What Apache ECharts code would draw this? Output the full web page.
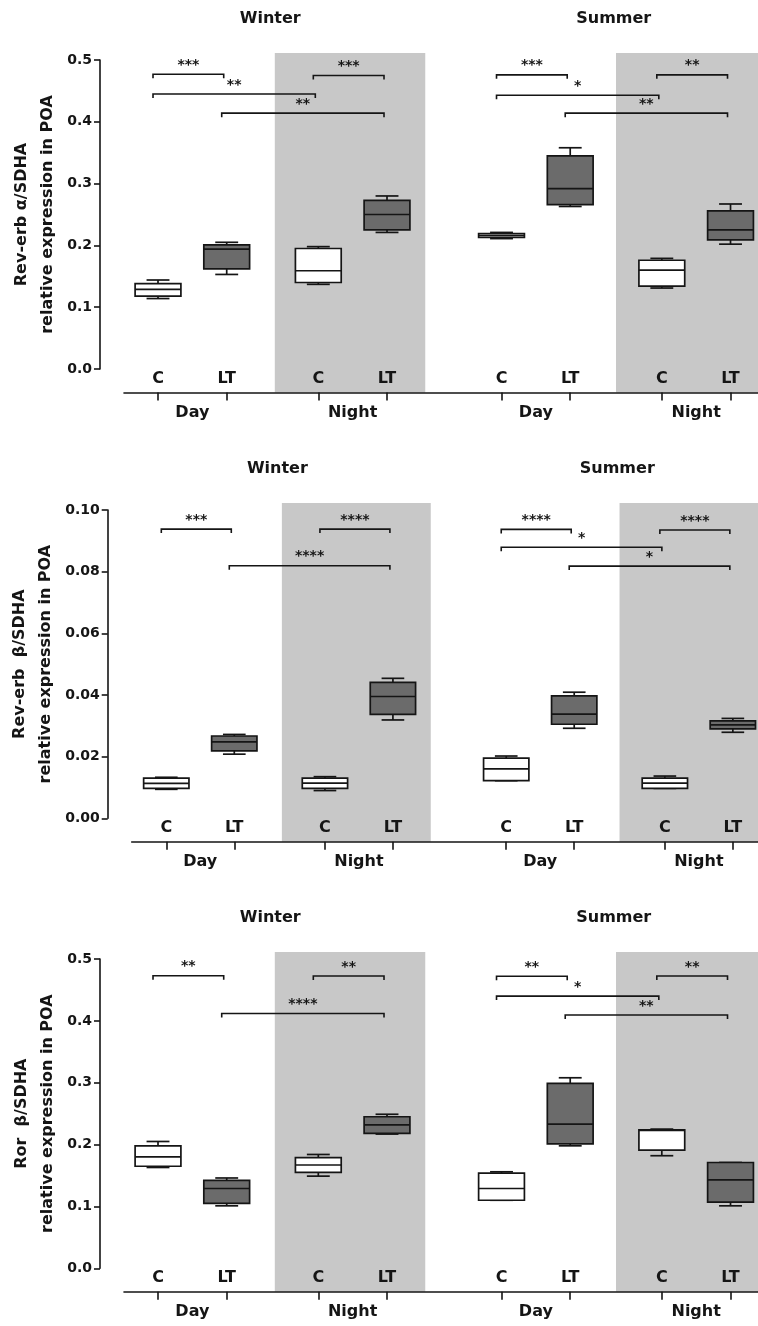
<!DOCTYPE html>
<html>
<head>
<meta charset="utf-8">
<script src="https://cdn.jsdelivr.net/npm/echarts@6/dist/echarts.min.js"></script>
<style>
  html, body { margin: 0; padding: 0; background: #fff; }
  #chart { width: 758px; height: 1326px; }
</style>
</head>
<body>
<div id="chart"></div>
<script>
// ---- data ----------------------------------------------------------------
const seasons = ['Winter', 'Summer'];
const phases = ['Day', 'Night'];
const treatments = ['C', 'LT'];

// five-number summaries [min, Q1, median, Q3, max]
// order: Winter C Day, Winter LT Day, Winter C Night, Winter LT Night,
//        Summer C Day, Summer LT Day, Summer C Night, Summer LT Night
const revErbAlphaBoxes = [
  [0.114, 0.118, 0.129, 0.138, 0.144],
  [0.153, 0.162, 0.194, 0.201, 0.205],
  [0.137, 0.140, 0.159, 0.195, 0.198],
  [0.221, 0.225, 0.250, 0.273, 0.280],
  [0.211, 0.213, 0.216, 0.219, 0.221],
  [0.263, 0.266, 0.292, 0.345, 0.358],
  [0.131, 0.134, 0.160, 0.176, 0.179],
  [0.202, 0.209, 0.225, 0.256, 0.267]
];
const revErbBetaBoxes = [
  [0.0094, 0.0097, 0.0113, 0.0130, 0.0133],
  [0.0208, 0.0219, 0.0248, 0.0267, 0.0272],
  [0.0090, 0.0097, 0.0114, 0.0130, 0.0135],
  [0.0319, 0.0337, 0.0395, 0.0441, 0.0454],
  [0.0122, 0.0122, 0.0160, 0.0195, 0.0202],
  [0.0292, 0.0305, 0.0338, 0.0397, 0.0409],
  [0.0097, 0.0097, 0.0114, 0.0130, 0.0137],
  [0.0279, 0.0290, 0.0303, 0.0316, 0.0324]
];
const rorBetaBoxes = [
  [0.163, 0.165, 0.180, 0.198, 0.205],
  [0.101, 0.105, 0.129, 0.142, 0.146],
  [0.149, 0.155, 0.167, 0.179, 0.184],
  [0.217, 0.218, 0.232, 0.245, 0.249],
  [0.110, 0.110, 0.129, 0.154, 0.156],
  [0.198, 0.201, 0.233, 0.299, 0.308],
  [0.182, 0.191, 0.223, 0.224, 0.225],
  [0.101, 0.107, 0.143, 0.171, 0.171]
];

// significance brackets: [from group, to group, bracket height, stars]
const revErbAlphaSig = [
  [0, 1, 0.477, '***'], [0, 2, 0.445, '**'], [1, 3, 0.414, '**'], [2, 3, 0.475, '***'],
  [4, 5, 0.476, '***'], [4, 6, 0.443, '*'], [5, 7, 0.414, '**'], [6, 7, 0.476, '**']
];
const revErbBetaSig = [
  [0, 1, 0.0938, '***'], [1, 3, 0.0819, '****'], [2, 3, 0.0938, '****'],
  [4, 5, 0.0937, '****'], [4, 6, 0.0879, '*'], [5, 7, 0.0818, '*'], [6, 7, 0.0935, '****']
];
const rorBetaSig = [
  [0, 1, 0.473, '**'], [1, 3, 0.412, '****'], [2, 3, 0.4725, '**'],
  [4, 5, 0.472, '**'], [4, 6, 0.440, '*'], [5, 7, 0.4095, '**'], [6, 7, 0.4725, '**']
];

// y-axis tick settings per panel
const revErbAlphaTicks = { max: 0.5, interval: 0.1, decimals: 1 };
const revErbBetaTicks = { max: 0.10, interval: 0.02, decimals: 2 };
const rorBetaTicks = { max: 0.5, interval: 0.1, decimals: 1 };

// ---- layout ----------------------------------------------------------------
const FONT = 'DejaVu Sans';
const INK = '#151515';
const LT_FILL = '#6b6b6b';
const NIGHT_FILL = '#c8c8c8';
const slotX = [0, 3, 7, 10, 15, 18, 22, 25];   // x position of each group
const phaseX = [1.5, 8.5, 16.5, 23.5];         // Day / Night captions
const seasonX = [4.9, 19.9];                   // season titles
const nightBands = [[5.1, 11.67], [20, 99]];   // shaded night columns
const BOX_UNITS = 2;                            // box width in x units
const X_OFFSET = 23.5;                          // gap between y=0 and the x axis line

const panels = [
  { top: 60,  height: 309,   left: 124,   min: -1.485, max: 26.2,
    name: ['Rev-erb α/SDHA', 'relative expression in POA'],
    boxes: revErbAlphaBoxes, sig: revErbAlphaSig, ticks: revErbAlphaTicks },
  { top: 510, height: 308.3, left: 131.7, min: -1.527, max: 26.11,
    name: ['Rev-erb  β/SDHA', 'relative expression in POA'],
    boxes: revErbBetaBoxes, sig: revErbBetaSig, ticks: revErbBetaTicks },
  { top: 959, height: 309.3, left: 124,   min: -1.485, max: 26.2,
    name: ['Ror  β/SDHA', 'relative expression in POA'],
    boxes: rorBetaBoxes, sig: rorBetaSig, ticks: rorBetaTicks }
];

const boldText = (size) => ({ fontFamily: FONT, fontWeight: 'bold', fontSize: size, color: INK });
const inkLine = { color: INK, width: 1.6 };

// ---- render helpers ----------------------------------------------------------
function renderBand(params, api) {
  const cs = params.coordSys;
  const x1 = api.coord([api.value(0), 0])[0];
  const x2 = Math.min(api.coord([api.value(1), 0])[0], cs.x + cs.width);
  return {
    type: 'rect',
    shape: { x: x1, y: cs.y - 7, width: x2 - x1, height: cs.height + 7 + X_OFFSET },
    style: { fill: NIGHT_FILL }
  };
}

function renderBox(params, api) {
  const x = api.value(0);
  const pLo = api.coord([x, api.value(1)]);
  const pQ1 = api.coord([x, api.value(2)]);
  const pMd = api.coord([x, api.value(3)]);
  const pQ3 = api.coord([x, api.value(4)]);
  const pHi = api.coord([x, api.value(5)]);
  const fill = api.value(6) ? LT_FILL : '#ffffff';
  const w = api.size([BOX_UNITS, 0])[0];
  const cap = w / 2;
  const cx = pLo[0];
  const st = { stroke: INK, lineWidth: 1.7 };
  return {
    type: 'group',
    children: [
      { type: 'line', shape: { x1: cx, y1: pHi[1], x2: cx, y2: pQ3[1] }, style: st },
      { type: 'line', shape: { x1: cx, y1: pQ1[1], x2: cx, y2: pLo[1] }, style: st },
      { type: 'line', shape: { x1: cx - cap / 2, y1: pHi[1], x2: cx + cap / 2, y2: pHi[1] }, style: st },
      { type: 'line', shape: { x1: cx - cap / 2, y1: pLo[1], x2: cx + cap / 2, y2: pLo[1] }, style: st },
      { type: 'rect', shape: { x: cx - w / 2, y: pQ3[1], width: w, height: pQ1[1] - pQ3[1] },
        style: { fill: fill, stroke: INK, lineWidth: 1.7 } },
      { type: 'line', shape: { x1: cx - w / 2, y1: pMd[1], x2: cx + w / 2, y2: pMd[1] }, style: st }
    ]
  };
}

function makeBracketRenderer(sig) {
  return function (params, api) {
    const p1 = api.coord([api.value(0), api.value(2)]);
    const p2 = api.coord([api.value(1), api.value(2)]);
    const xa = p1[0] - 5, xb = p2[0] - 3, y = p1[1];
    return {
      type: 'group',
      children: [
        { type: 'polyline',
          shape: { points: [[xa, y + 4], [xa, y], [xb, y], [xb, y + 4]] },
          style: { stroke: INK, lineWidth: 1.6, fill: null } },
        { type: 'text',
          style: { x: (xa + xb) / 2, y: y - 9, text: sig[api.value(3)][3],
                   align: 'center', verticalAlign: 'middle',
                   font: 'bold 14px "' + FONT + '"', fill: INK } }
      ]
    };
  };
}

function renderSeason(params, api) {
  const cs = params.coordSys;
  const x = api.coord([api.value(0), 0])[0];
  return {
    type: 'text',
    style: { x: x, y: cs.y - 41, text: seasons[api.value(1)],
             align: 'center', verticalAlign: 'middle',
             font: 'bold 16px "' + FONT + '"', fill: INK }
  };
}

// ---- option -------------------------------------------------------------------
const grid = [], xAxis = [], yAxis = [], series = [];

panels.forEach((p, i) => {
  grid.push({ left: p.left, right: 0, top: p.top, height: p.height });

  xAxis.push({
    gridIndex: i, type: 'value', min: p.min, max: p.max, position: 'bottom', offset: X_OFFSET, z: 5,
    axisLine: { show: true, onZero: false, lineStyle: inkLine },
    axisTick: { show: true, inside: false, length: 8, customValues: slotX, lineStyle: inkLine },
    axisLabel: { show: true, inside: true, margin: 6, customValues: slotX,
      formatter: (v) => treatments[slotX.indexOf(v) % 2], ...boldText(16) },
    splitLine: { show: false }
  });
  xAxis.push({
    gridIndex: i, type: 'value', min: p.min, max: p.max, position: 'bottom', offset: X_OFFSET, z: 5,
    axisLine: { show: false }, axisTick: { show: false },
    axisLabel: { show: true, margin: 12, customValues: phaseX,
      formatter: (v) => phases[phaseX.indexOf(v) % 2], ...boldText(16) },
    splitLine: { show: false }
  });

  yAxis.push({
    gridIndex: i, type: 'value', min: 0, max: p.ticks.max, interval: p.ticks.interval,
    position: 'left', offset: 24, z: 5,
    axisLine: { show: true, onZero: false, lineStyle: inkLine },
    axisTick: { show: true, length: 6, lineStyle: inkLine },
    axisLabel: { margin: 8, formatter: (v) => v.toFixed(p.ticks.decimals), ...boldText(14) },
    splitLine: { show: false },
    name: '{a|' + p.name[0] + '}\n{b|' + p.name[1] + '}',
    nameLocation: 'middle', nameRotate: 90, nameGap: 39,
    nameTextStyle: {
      rich: {
        a: { ...boldText(16), lineHeight: 26 },
        b: { ...boldText(16), lineHeight: 26 }
      }
    }
  });

  const xi = i * 2;
  series.push({
    type: 'custom', xAxisIndex: xi, yAxisIndex: i, z: 1, silent: true,
    renderItem: renderBand, data: nightBands
  });
  series.push({
    type: 'custom', xAxisIndex: xi, yAxisIndex: i, z: 3, silent: true,
    renderItem: renderBox,
    data: p.boxes.map((b, k) => [slotX[k], b[0], b[1], b[2], b[3], b[4], k % 2])
  });
  series.push({
    type: 'custom', xAxisIndex: xi, yAxisIndex: i, z: 4, silent: true,
    renderItem: makeBracketRenderer(p.sig),
    data: p.sig.map((s, k) => [slotX[s[0]], slotX[s[1]], s[2], k])
  });
  series.push({
    type: 'custom', xAxisIndex: xi, yAxisIndex: i, z: 4, silent: true,
    renderItem: renderSeason,
    data: seasons.map((s, k) => [seasonX[k], k])
  });
});

const chart = echarts.init(document.getElementById('chart'), null, { renderer: 'canvas' });
chart.setOption({
  backgroundColor: '#ffffff',
  animation: false,
  grid, xAxis, yAxis, series
});
</script>
</body>
</html>
